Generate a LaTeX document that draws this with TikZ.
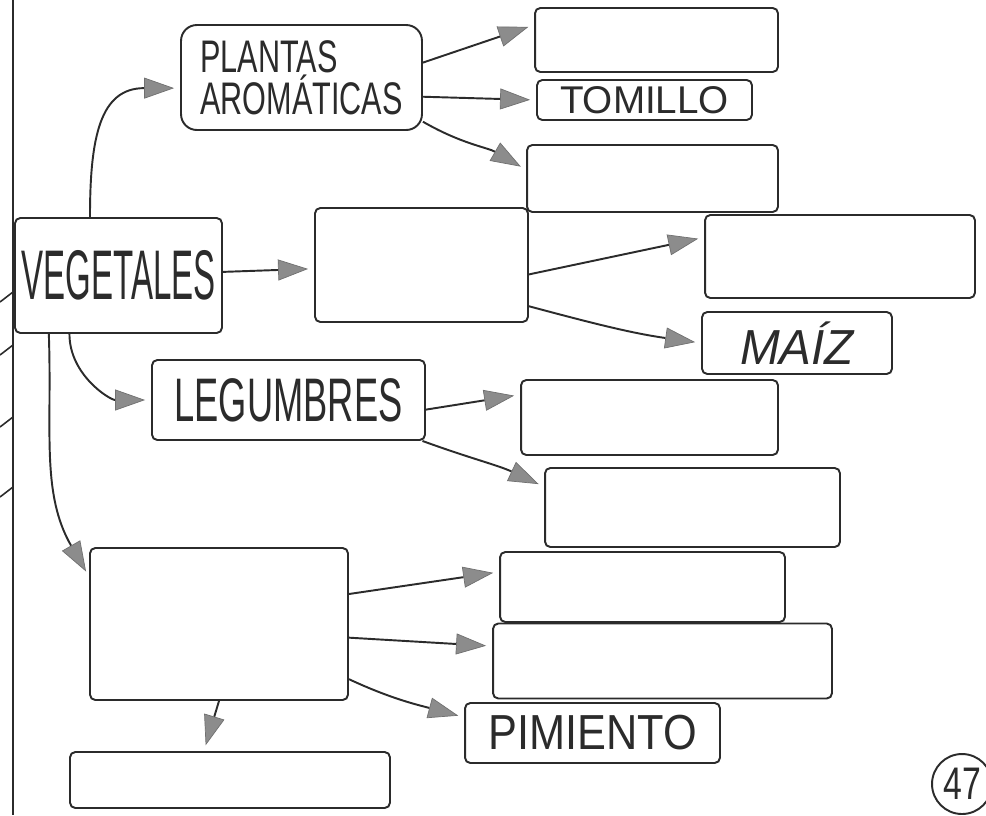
\documentclass[tikz,border=0pt]{standalone}
\usepackage{fontspec}
\usepackage{graphicx}
\setmainfont{Liberation Sans}
\usetikzlibrary{arrows.meta}
\definecolor{tinta}{HTML}{2B2B2B}
\definecolor{punta}{HTML}{8C8C8C}
\newcommand{\estrecho}[2]{\scalebox{#1}[1]{#2}}
\tikzset{
  caja/.style   = {rectangle, draw=tinta, line width=1.1pt, rounded corners=3pt, inner sep=0pt, text=tinta},
  flecha/.style = {draw=tinta, line width=1.1pt, shorten >=0.12cm,
                   -{Triangle[length=0.6cm, width=0.42cm, color=punta!80!black, fill=punta, line width=0.4pt]}},
  margen/.style = {draw=tinta, line width=0.9pt}
}
\begin{document}
\begin{tikzpicture}[x=0.02cm, y=0.02cm]
  \useasboundingbox (0,-815) rectangle (986,0);

  % margen de la hoja
  \draw[margen] (13,0) -- (13,-815);
  \draw[margen] (0,-302) -- (13,-292);
  \draw[margen] (0,-355) -- (13,-345);
  \draw[margen] (0,-427) -- (13,-417);
  \draw[margen] (0,-497) -- (13,-487);

  % centro
  \node[caja, minimum width=4.14cm, minimum height=2.30cm, font=\fontsize{40}{40}\selectfont] (veg) at (118.5,-275.5) {\estrecho{0.47}{VEGETALES}};

  % plantas aromaticas (3)
  \node[caja, rounded corners=9pt, minimum width=4.82cm, minimum height=2.10cm, align=left, font=\fontsize{26}{24}\selectfont] (plan) at (301.5,-77.5) {\estrecho{0.67}{PLANTAS}\\\estrecho{0.67}{AROMÁTICAS}};
  \node[caja, minimum width=4.86cm, minimum height=1.28cm] (a1) at (656.5,-40) {};
  \node[caja, minimum width=4.30cm, minimum height=0.80cm, font=\fontsize{22}{22}\selectfont] (tom) at (644.5,-100) {TOMILLO};
  \node[caja, minimum width=5.02cm, minimum height=1.34cm] (a3) at (652.5,-178.5) {};

  % cereales (2)
  \node[caja, minimum width=4.26cm, minimum height=2.28cm] (mid) at (421.5,-265) {};
  \node[caja, minimum width=5.40cm, minimum height=1.66cm] (m1) at (840,-256.5) {};
  \node[caja, minimum width=3.80cm, minimum height=1.24cm, font=\fontsize{28}{28}\selectfont\itshape] (maiz) at (797,-343) {\estrecho{0.97}{MAÍZ}};

  % legumbres (2)
  \node[caja, minimum width=5.46cm, minimum height=1.60cm, font=\fontsize{35}{35}\selectfont] (leg) at (288.5,-400) {\estrecho{0.59}{LEGUMBRES}};
  \node[caja, minimum width=5.14cm, minimum height=1.50cm] (l1) at (649.5,-417.5) {};
  \node[caja, minimum width=5.90cm, minimum height=1.58cm] (l2) at (692.5,-507.5) {};

  % hortalizas (4)
  \node[caja, minimum width=5.16cm, minimum height=3.04cm] (big) at (219,-624) {};
  \node[caja, minimum width=5.70cm, minimum height=1.40cm] (b1) at (642.5,-587) {};
  \node[caja, minimum width=6.78cm, minimum height=1.50cm] (b2) at (662.5,-661) {};
  \node[caja, minimum width=5.10cm, minimum height=1.20cm, font=\fontsize{28}{28}\selectfont] (pim) at (592.5,-733) {\estrecho{0.88}{PIMIENTO}};
  \node[caja, minimum width=6.40cm, minimum height=1.12cm] (b3) at (230,-780) {};

  % numero de pagina
  \node[circle, draw=tinta, line width=1.1pt, minimum size=1.2cm, inner sep=0pt, text=tinta, font=\fontsize{26}{26}\selectfont] (pag) at (962,-784) {\estrecho{0.74}{47}};

  % flechas
  \draw[flecha] (veg.116) to[out=90,in=180,looseness=1.3] (plan.185);
  \draw[flecha] (veg) -- (mid);
  \draw[flecha] (veg.230) to[out=-90,in=180] (leg.west);
  \draw[flecha] (veg.220) to[out=-88,in=120] (big.160);

  \draw[flecha] (plan.7) -- (a1.173);
  \draw[flecha] (plan.-9) -- (tom.west);
  \draw[flecha] (plan.-20) to[out=-30,in=150] (a3.176);

  \draw[flecha] (mid.-5) -- (m1.172);
  \draw[flecha] (mid.-21) to[out=-15,in=172] (maiz.west);

  \draw[flecha] (leg.-4) -- (l1.170);
  \draw[flecha] (leg.-17) to[out=-20,in=155] (l2.172);

  \draw[flecha] (big.13) -- (b1.174);
  \draw[flecha] (big.-6) -- (b2.175);
  \draw[flecha] (big.-23) to[out=-25,in=165] (pim.173);
  \draw[flecha] (big.south) -- (b3.132);
\end{tikzpicture}
\end{document}
